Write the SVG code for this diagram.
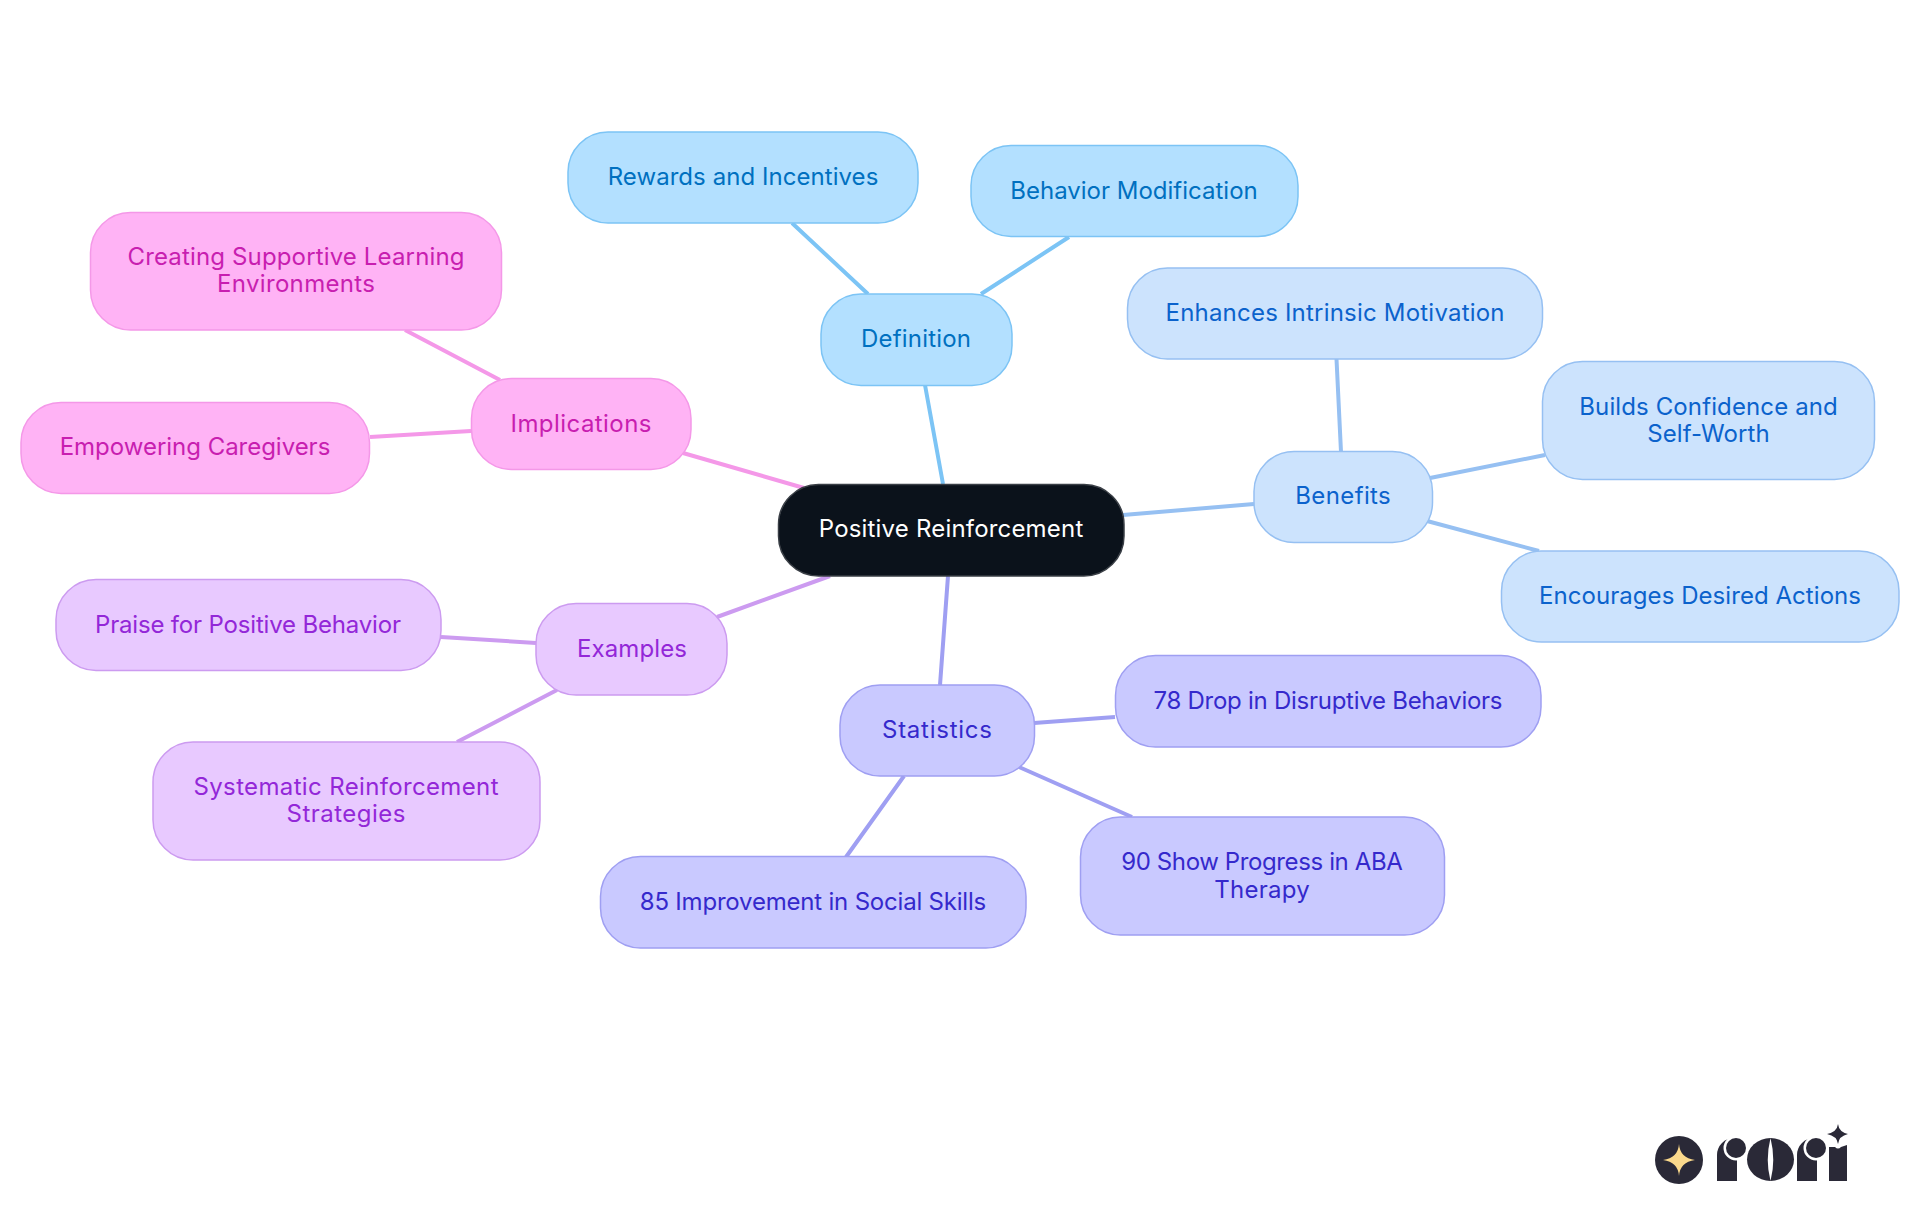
<svg xmlns="http://www.w3.org/2000/svg" width="1920" height="1215" viewBox="0 0 1920 1215">
<style>
text{font-family:Inter,"Noto Sans","Liberation Sans",sans-serif;font-size:24px;font-weight:400;text-anchor:middle;dominant-baseline:central}
rect{stroke-width:1.5}
.c path{fill:none;stroke-width:4}
.def rect{fill:#b3e0ff;stroke:#7cc4f5}.def text{fill:#0070c0}
.ben rect{fill:#cce3fd;stroke:#96c0f2}.ben text{fill:#0b62cc}
.sta rect{fill:#c9c9ff;stroke:#9f9ff2}.sta text{fill:#3529cc}
.exa rect{fill:#e8c9ff;stroke:#cc9bf0}.exa text{fill:#9327d8}
.imp rect{fill:#ffb3f5;stroke:#f498e8}.imp text{fill:#c81eb0}
</style>
<rect width="1920" height="1215" fill="#fff" style="stroke:none"/>
<g id="connectors" class="c">
<path stroke="#7cc4f5" d="M943 484L925 385M792 223L868 294M1069 237L981 294"/>
<path stroke="#96c0f2" d="M1123 515L1254 504M1336.500 359L1341 452M1545 455L1430 478M1539 551L1427 521"/>
<path stroke="#9f9ff2" d="M948 576L940 685M1115 717L1034 723M1132 817L1019 767M904 776L846 857"/>
<path stroke="#cc9bf0" d="M830 576L717 617M536 643L441 637M557 690L457 742"/>
<path stroke="#f498e8" d="M804 488L683 453M471 431L370 437M500 380L405 330"/>
</g>
<g id="root"><rect x="778.500" y="484.500" width="345.500" height="91.500" rx="40" fill="#0b121b" stroke="#3a3f46"/><text x="951" y="528" fill="#fff" textLength="264.500">Positive Reinforcement</text></g>
<g id="definition" class="def"><rect x="821" y="294" width="191" height="91.500" rx="40"/><text x="916" y="338" textLength="110">Definition</text></g>
<g id="rewards" class="def"><rect x="568" y="132" width="350" height="91" rx="40"/><text x="743" y="176" textLength="270.600">Rewards and Incentives</text></g>
<g id="behavior" class="def"><rect x="971" y="145.500" width="327" height="91" rx="40"/><text x="1134" y="190" textLength="247.500">Behavior Modification</text></g>
<g id="benefits" class="ben"><rect x="1254" y="451.500" width="178.500" height="91" rx="40"/><text x="1343" y="495" textLength="95.500">Benefits</text></g>
<g id="enhances" class="ben"><rect x="1127.500" y="268" width="415" height="91" rx="40"/><text x="1335" y="312" textLength="339">Enhances Intrinsic Motivation</text></g>
<g id="builds" class="ben"><rect x="1542.500" y="361.500" width="332" height="118" rx="40"/><text x="1708.500" y="406" textLength="258.500">Builds Confidence and</text><text x="1708.500" y="433" textLength="122.500">Self-Worth</text></g>
<g id="encourages" class="ben"><rect x="1501.500" y="551" width="397.500" height="91" rx="40"/><text x="1700" y="595" textLength="322">Encourages Desired Actions</text></g>
<g id="statistics" class="sta"><rect x="840" y="685" width="194.500" height="91" rx="40"/><text x="937" y="729" textLength="110">Statistics</text></g>
<g id="drop" class="sta"><rect x="1115.500" y="655.500" width="425.500" height="91.500" rx="40"/><text x="1328" y="700" textLength="349">78 Drop in Disruptive Behaviors</text></g>
<g id="progress" class="sta"><rect x="1080.500" y="817" width="364" height="118" rx="40"/><text x="1262" y="861" textLength="281.600">90 Show Progress in ABA</text><text x="1262" y="889" textLength="95.500">Therapy</text></g>
<g id="social" class="sta"><rect x="600.500" y="856.500" width="425.500" height="91.500" rx="40"/><text x="813" y="901" textLength="346.500">85 Improvement in Social Skills</text></g>
<g id="examples" class="exa"><rect x="536" y="603.500" width="191" height="91.500" rx="40"/><text x="632" y="648" textLength="110">Examples</text></g>
<g id="praise" class="exa"><rect x="56" y="579.500" width="385" height="91" rx="40"/><text x="248" y="624" textLength="306">Praise for Positive Behavior</text></g>
<g id="systematic" class="exa"><rect x="153" y="742" width="387" height="118" rx="40"/><text x="346" y="786" textLength="305">Systematic Reinforcement</text><text x="346" y="813" textLength="119">Strategies</text></g>
<g id="implications" class="imp"><rect x="471.500" y="378.500" width="219.500" height="91" rx="40"/><text x="581" y="423" textLength="141">Implications</text></g>
<g id="empowering" class="imp"><rect x="21" y="402.500" width="348.500" height="91" rx="40"/><text x="195" y="446" textLength="270.600">Empowering Caregivers</text></g>
<g id="creating" class="imp"><rect x="90.500" y="212.500" width="411" height="117.500" rx="40"/><text x="296" y="256" textLength="337">Creating Supportive Learning</text><text x="296" y="283" textLength="158">Environments</text></g>
<g id="logo" fill="#2a2937">
<circle cx="1679" cy="1160" r="24"/>
<path fill="#fbd98c" d="M1679 1144Q1680 1158 1695 1160Q1680 1162 1679 1176Q1678 1162 1663 1160Q1678 1158 1679 1144Z"/>
<path d="M1717 1181V1155A17 17 0 0 1 1734 1138H1737V1181Z"/><circle cx="1736" cy="1148" r="12.500" fill="#fff"/><circle cx="1736" cy="1148" r="10"/>
<ellipse cx="1770.500" cy="1159.500" rx="23.500" ry="21.500"/><path fill="#fff" d="M1770.500 1138Q1776 1160 1770.500 1181Q1765 1160 1770.500 1138Z"/>
<path d="M1797 1181V1155A17 17 0 0 1 1814 1138H1817V1181Z"/><circle cx="1816" cy="1148" r="12.500" fill="#fff"/><circle cx="1816" cy="1148" r="10"/>
<path d="M1829 1181V1147H1835Q1838 1150 1841 1147L1847 1145V1181Z"/>
<path d="M1838 1124Q1839 1132 1848 1134Q1839 1136 1838 1144Q1837 1136 1827 1134Q1837 1132 1838 1124Z"/>
</g>
</svg>
